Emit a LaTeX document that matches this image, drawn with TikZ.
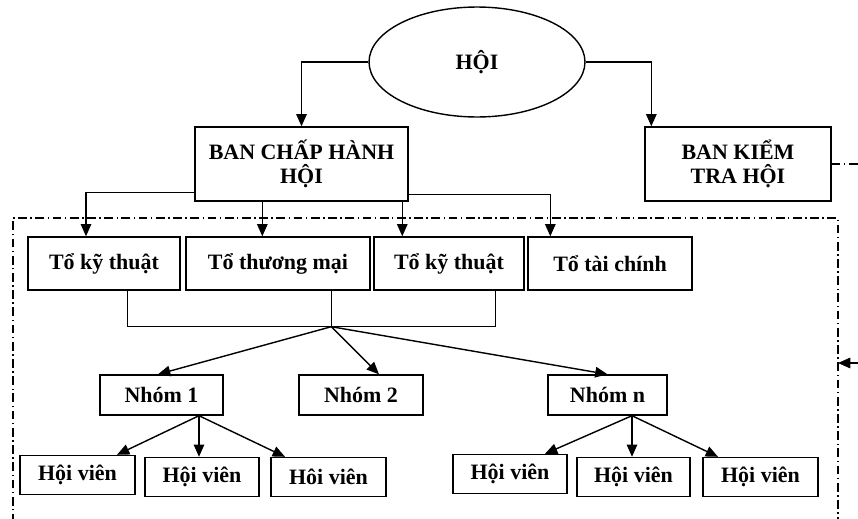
\documentclass[tikz,border=0pt]{standalone}
\usepackage{fontspec}
\setmainfont{Liberation Serif}
\usetikzlibrary{shapes.geometric,arrows.meta}

\begin{document}
\begin{tikzpicture}[x=0.02cm,y=-0.02cm,
  font=\fontsize{12.5}{13.5}\selectfont\bfseries,
  box/.style={draw,line width=0.8pt,inner sep=2pt,align=center},
  arr/.style={line width=0.8pt,-{Triangle[length=7pt,width=6pt]}},
  dashdot/.style={line width=0.7pt,dash pattern=on 5pt off 2pt on 0.8pt off 2pt}]

\useasboundingbox (0,0) rectangle (858,518);

\node[box,ellipse,minimum width=4.32cm,minimum height=2.2cm] (hoi) at (477,62) {HỘI};
\node[box,minimum width=4.26cm,minimum height=1.48cm] (bch) at (301.5,164) {BAN CHẤP HÀNH\\HỘI};
\node[box,minimum width=3.72cm,minimum height=1.48cm] (bkt) at (738,164) {BAN KIỂM\\TRA HỘI};

% to
\node[box,minimum width=3.04cm,minimum height=1.06cm] (to1) at (104,263.5) {Tổ kỹ thuật};
\node[box,minimum width=3.68cm,minimum height=1.06cm] (to2) at (278,263.5) {Tổ thương mại};
\node[box,minimum width=3.0cm,minimum height=1.06cm] (to3) at (449,263.5) {Tổ kỹ thuật};
\node[box,minimum width=3.28cm,minimum height=1.06cm] (to4) at (610,263.5) {Tổ tài chính};

% nhom
\node[box,minimum width=2.46cm,minimum height=0.8cm] (nhom1) at (161.5,395) {Nhóm 1};
\node[box,minimum width=2.48cm,minimum height=0.8cm] (nhom2) at (361,395) {Nhóm 2};
\node[box,minimum width=2.38cm,minimum height=0.8cm] (nhomn) at (607.5,395) {Nhóm n};

% hoi vien
\node[box,minimum width=2.3cm,minimum height=0.78cm] (hv1) at (77.5,475) {Hội viên};
\node[box,minimum width=2.28cm,minimum height=0.78cm] (hv2) at (202,477) {Hội viên};
\node[box,minimum width=2.3cm,minimum height=0.78cm] (hv3) at (328.5,477) {Hôi viên};
\node[box,minimum width=2.28cm,minimum height=0.78cm] (hv4) at (510,474) {Hội viên};
\node[box,minimum width=2.26cm,minimum height=0.78cm] (hv5) at (633.5,477) {Hội viên};
\node[box,minimum width=2.3cm,minimum height=0.78cm] (hv6) at (760.5,477) {Hội viên};

\draw[arr] (hoi.west) -| (bch.north);
\draw[arr] (hoi.east) -| ([xshift=0.14cm]bkt.north west);

\draw[arr] ([yshift=0.18cm]bch.south west) -| ([xshift=-0.36cm]to1.north);
\draw[arr] ([xshift=1.36cm]bch.south west) coordinate (b2) -- (b2 |- to2.north);
\draw[arr] ([xshift=4.16cm]bch.south west) coordinate (b3) -- (b3 |- to3.north);
\draw[arr] ([yshift=0.14cm]bch.south east) -| ([xshift=0.46cm]to4.north west);

\coordinate (j) at ([xshift=2.92cm,yshift=-0.72cm]to2.south west);
\draw[line width=0.8pt] ([xshift=2cm]to1.south west) |- (j) -| ([xshift=2.44cm]to3.south west);
\draw[line width=0.8pt] (j) -- (j |- to2.south);
\draw[arr] (j) -- ([xshift=-0.07cm]nhom1.north);
\draw[arr] (j) -- ([xshift=0.36cm]nhom2.north);
\draw[arr] (j) -- (nhomn.north);

\coordinate (g1) at ([xshift=0.75cm]nhom1.south);
\draw[arr] (g1) -- ([xshift=0.79cm]hv1.north);
\draw[arr] (g1) -- (g1 |- hv2.north);
\draw[arr] (g1) -- ([xshift=-0.87cm]hv3.north);

\coordinate (gn) at ([xshift=0.49cm]nhomn.south);
\draw[arr] (gn) -- ([xshift=0.7cm]hv4.north);
\draw[arr] (gn) -- (gn |- hv5.north);
\draw[arr] (gn) -- ([xshift=-0.85cm]hv6.north);

% frame, cut at the page edge
\begin{scope}
\clip (0,0) rectangle (858,518);
\coordinate (fr) at (838,363);
\draw[dashdot] (13,540) -- (13,218) -- (838,218) -- (838,540);
\draw[dashdot] (bkt.east) -- (880,164);
\draw[arr] (880,363) -- (fr);
\end{scope}

\end{tikzpicture}
\end{document}
